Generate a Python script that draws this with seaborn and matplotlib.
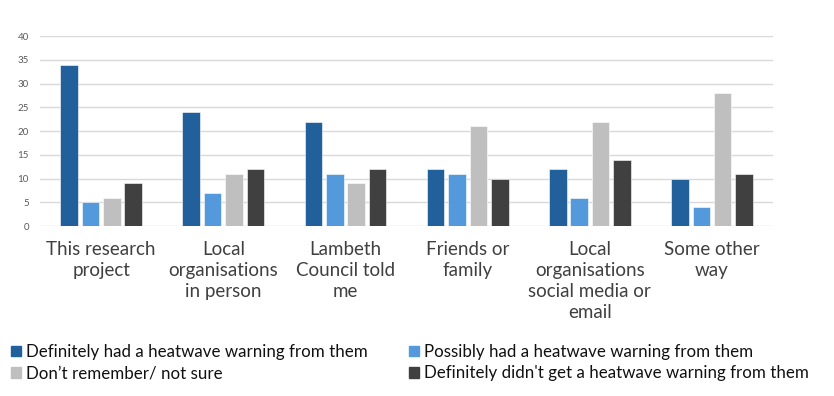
import pandas as pd
import seaborn as sns
import matplotlib.pyplot as plt
from matplotlib.patches import Patch

categories = ["This research\nproject", "Local\norganisations\nin person", "Lambeth\nCouncil told\nme",
              "Friends or\nfamily", "Local\norganisations\nsocial media or\nemail", "Some other\nway"]
series = ["Definitely had a heatwave warning from them", "Possibly had a heatwave warning from them",
          "Don\u2019t remember/ not sure", "Definitely didn't get a heatwave warning from them"]
definitely_had = [34, 24, 22, 12, 12, 10]
possibly_had = [5, 7, 11, 11, 6, 4]
dont_remember = [6, 11, 9, 21, 22, 28]
definitely_not = [9, 12, 12, 10, 14, 11]
colors = ["#21609B", "#5499DB", "#BFBFBF", "#404040"]

rows = []
for s, vals in zip(series, [definitely_had, possibly_had, dont_remember, definitely_not]):
    for c, v in zip(categories, vals):
        rows.append({"Category": c, "Series": s, "Count": v})
df = pd.DataFrame(rows)

sns.set_style("white")
plt.rcParams['font.family'] = ['Lato', 'DejaVu Sans']

fig = plt.figure(figsize=(8.34, 3.96), dpi=100)
ax = fig.add_axes([0.048, 0.429, 0.879, 0.48])

sns.barplot(data=df, x="Category", y="Count", hue="Series", order=categories, hue_order=series,
            palette=colors, saturation=1, width=0.7, gap=0.18, edgecolor="white", linewidth=0.4,
            legend=False, ax=ax)

ax.set_ylim(0, 40)
ax.set_yticks(range(0, 41, 5))
ax.yaxis.grid(True, color="#d9d9d9", linewidth=1)
ax.set_axisbelow(True)
for sp in ax.spines.values():
    sp.set_visible(False)
ax.set_xlabel("")
ax.set_ylabel("")
ax.tick_params(axis="y", labelsize=7, colors="#595959", length=0, pad=8)
ax.tick_params(axis="x", labelsize=13.5, colors="#404040", length=0, pad=11)
for lbl in ax.get_xticklabels():
    lbl.set_linespacing(1.27)

handles = [Patch(color=c) for c in colors]
order = [0, 2, 1, 3]
fig.legend([handles[i] for i in order], [series[i] for i in order], loc="upper left",
           bbox_to_anchor=(-0.005, 0.17), ncol=2, frameon=False, fontsize=12.2,
           handlelength=0.6, handleheight=0.6, handletextpad=0.3, columnspacing=2.4,
           labelspacing=0.32, labelcolor="#111111")

fig.savefig("out.png", dpi=100)
